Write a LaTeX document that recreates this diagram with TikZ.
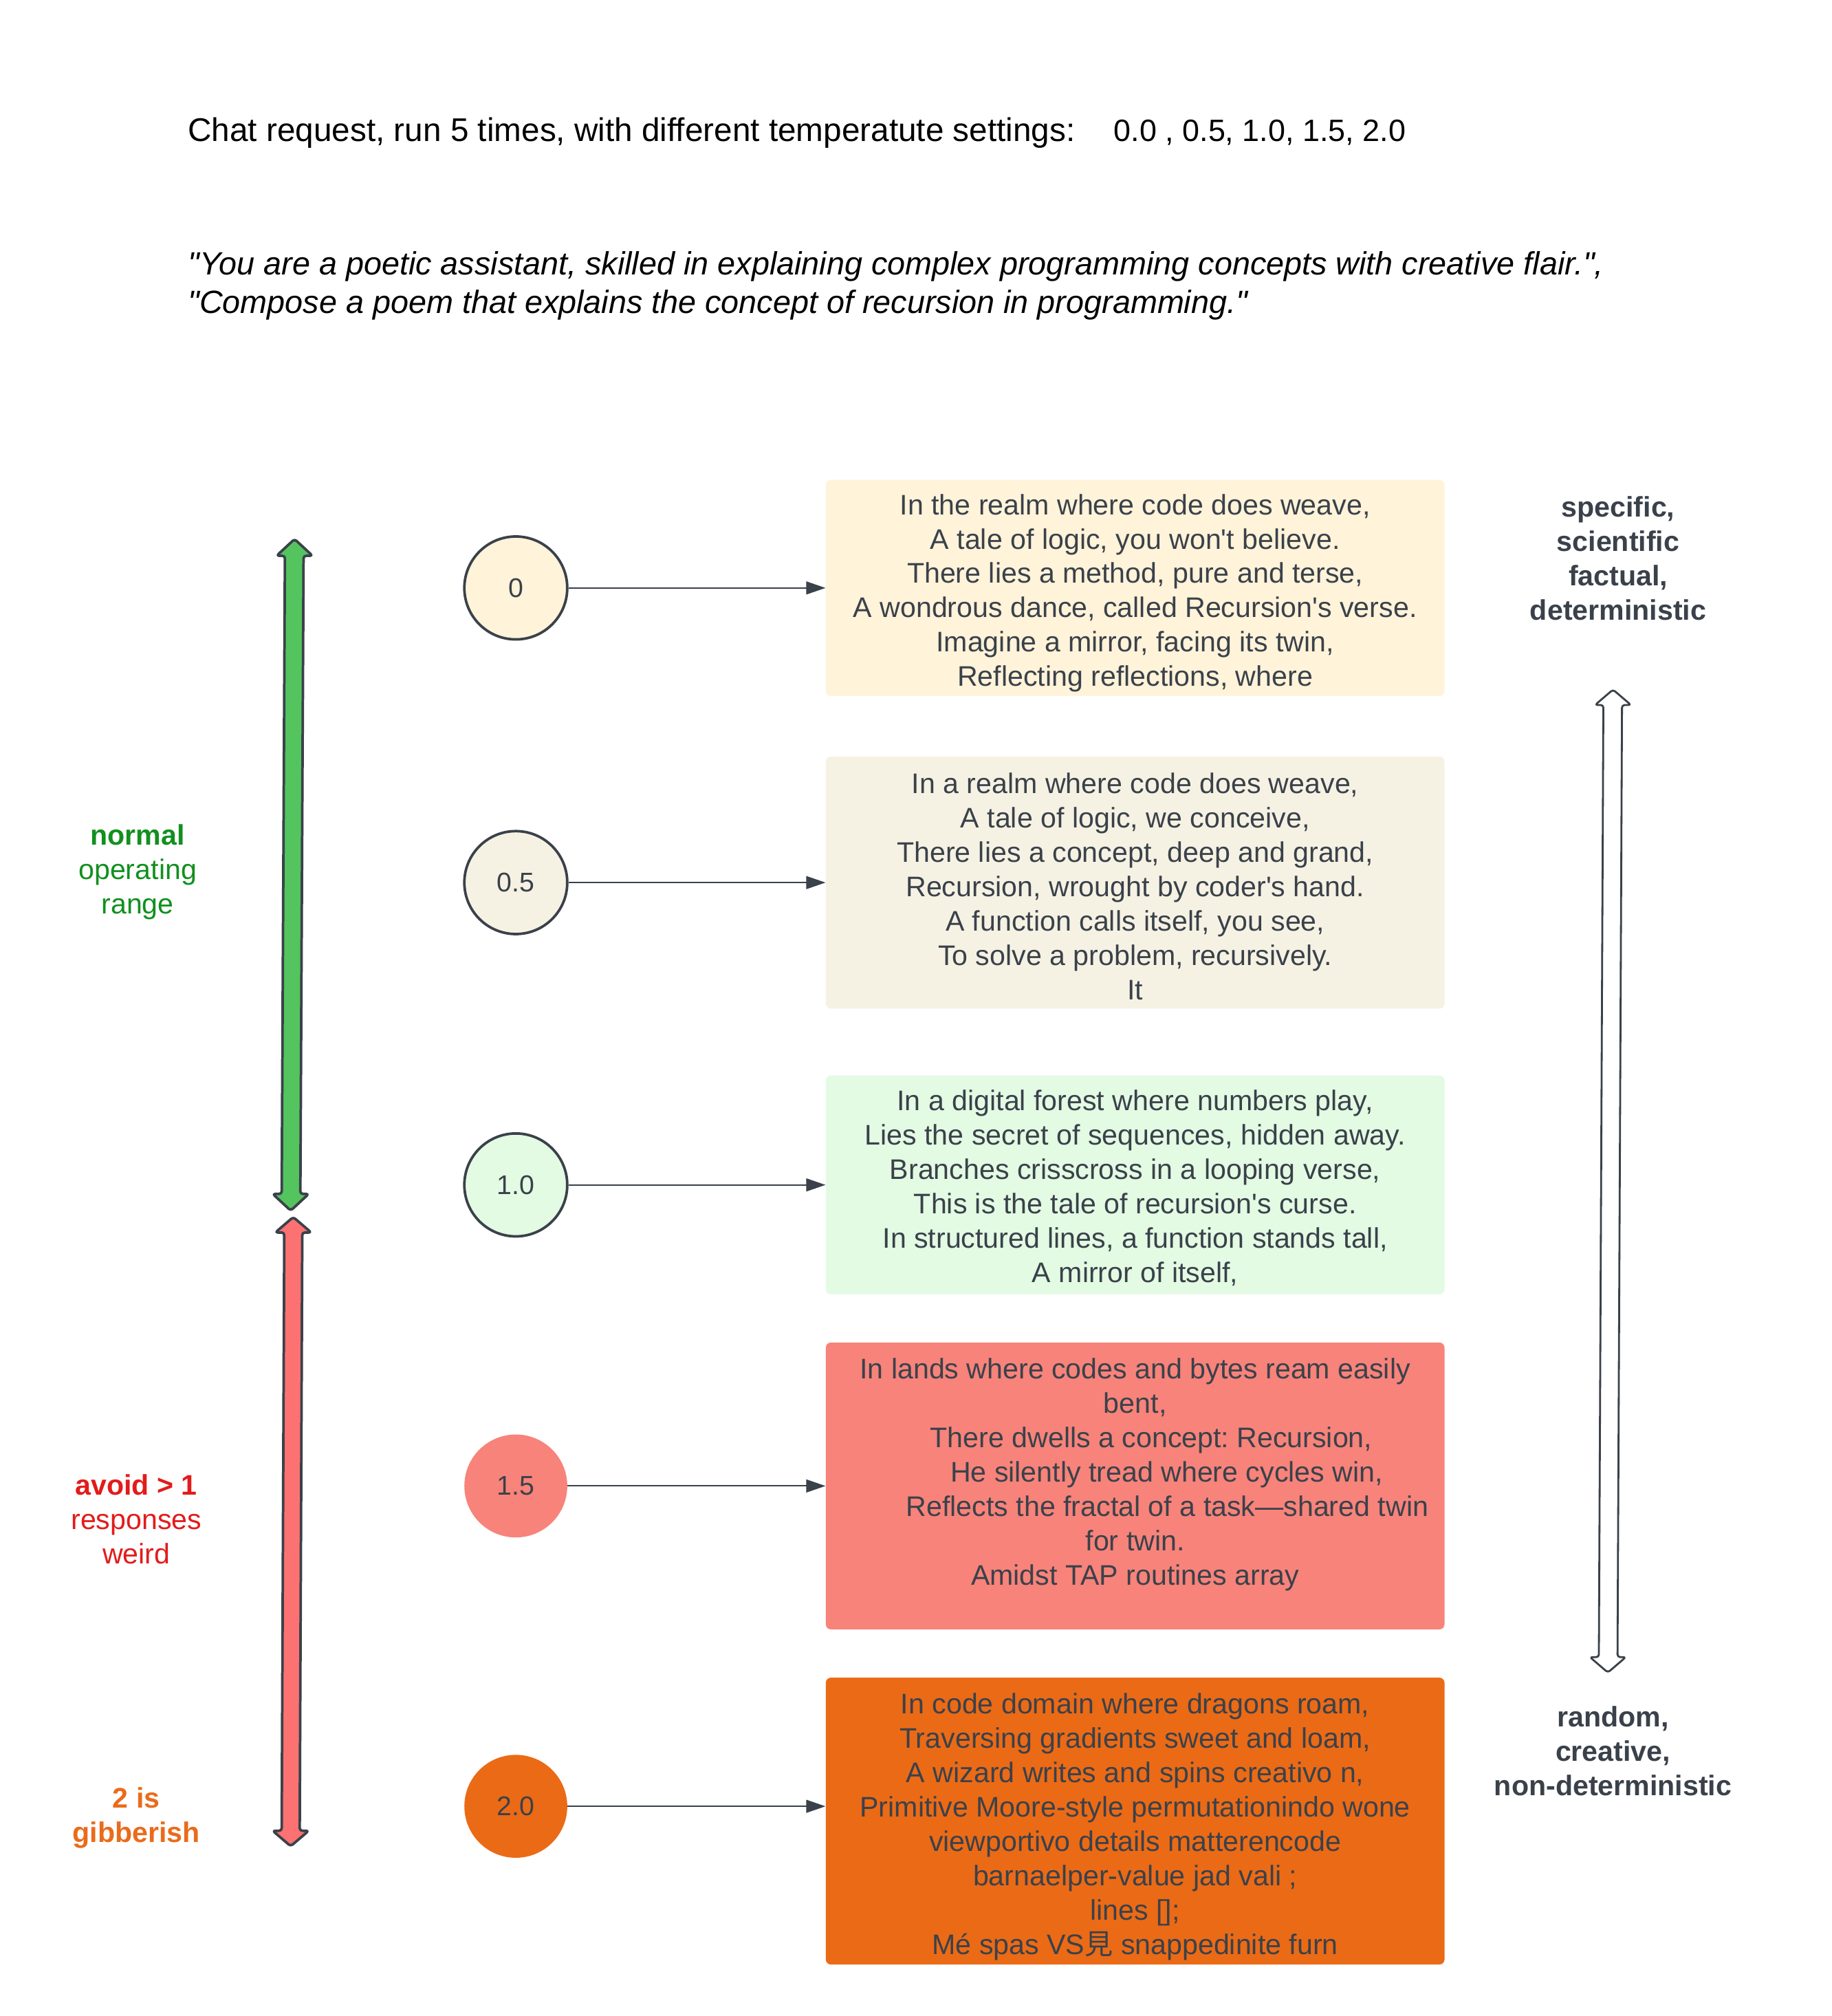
\documentclass[tikz,border=0pt]{standalone}
\usepackage{fontspec}
\newfontfamily\plainfont{Liberation Sans}
\newfontfamily\cjkfont{Noto Sans CJK JP}
\usetikzlibrary{arrows.meta}
\definecolor{ink}{HTML}{3A414A}
\definecolor{fc0}{HTML}{FFF3D9}
\definecolor{fc05}{HTML}{F6F2E3}
\definecolor{fc10}{HTML}{E3FAE3}
\definecolor{fc15}{HTML}{F7837A}
\definecolor{fc20}{HTML}{EB6A16}
\definecolor{garrow}{HTML}{54C45E}
\definecolor{rarrow}{HTML}{FC7272}
\definecolor{lgreen}{HTML}{12901F}
\definecolor{lred}{HTML}{E31B1B}
\definecolor{lorange}{HTML}{EA6B1B}
\tikzset{
 poem/.style={font=\plainfont\fontsize{22}{26.7}\selectfont, text=ink, align=center, inner sep=0pt},
 box/.style={rectangle, rounded corners=4pt, minimum width=481pt, inner sep=0pt, draw=none},
 tcirc/.style={circle, minimum size=80pt, inner sep=0pt, font=\plainfont\fontsize{21}{25}\selectfont, text=ink},
 conn/.style={draw=ink, line width=1.1pt, -{Triangle[length=15pt,width=10pt]}},
 lbl/.style={font=\plainfont\fontsize{22}{26.7}\selectfont, align=center, inner sep=0pt},
 dbl/.style={line width=2pt, draw=ink, rounded corners=2pt, line join=round},
}
\begin{document}
\plainfont\frenchspacing
\begin{tikzpicture}[x=1pt,y=-1pt]
\useasboundingbox (0,0) rectangle (1424,1567);
\fill[white] (0,0) rectangle (1424,1567);

% header
\node[anchor=base west, inner sep=0pt, font=\plainfont\fontsize{25.5}{30}\selectfont] (title) at (146,110)
 {Chat request, run 5 times, with different temperatute settings:\hspace{30pt}{\fontsize{24}{30}\selectfont 0.0 , 0.5, 1.0, 1.5, 2.0}};
\node[anchor=west, inner sep=0pt, align=left, font=\plainfont\fontsize{25}{30}\selectfont\itshape] (prompt) at (146,222)
 {"You are a poetic assistant, skilled in explaining complex programming concepts with creative flair.",\\
  "Compose a poem that explains the concept of recursion in programming."};

% left range arrows
\draw[dbl, fill=garrow] (229,419) -- (243,432) -- (236,432) -- (233.5,928) -- (240,928) -- (226,941) -- (212,928) -- (219,928) -- (221.5,432) -- (215,432) -- cycle;
\draw[dbl, fill=rarrow] (228,946) -- (242,958) -- (235,958) -- (233,1423) -- (240,1423) -- (226,1435) -- (212,1423) -- (219,1423) -- (221,958) -- (214,958) -- cycle;

% left labels
\node[lbl, text=lgreen] (lnormal) at (107,678) {\textbf{normal}\\operating\\range};
\node[lbl, text=lred] (lavoid) at (106,1181) {\textbf{avoid > 1}\\responses\\weird};
\node[lbl, text=lorange, font=\plainfont\fontsize{22}{26.7}\selectfont\bfseries] (lgib) at (106,1413) {2 is\\gibberish};

% right labels and arrow
\node[lbl, text=ink, font=\plainfont\fontsize{22}{26.7}\selectfont\bfseries] (rtop) at (1258,434) {specific,\\scientific\\factual,\\deterministic};
\node[lbl, text=ink, font=\plainfont\fontsize{22}{26.7}\selectfont\bfseries] (rbot) at (1254,1361) {random,\\creative,\\non-deterministic};
\draw[dbl, line width=1.5pt, fill=white] (1254,536) -- (1268,548) -- (1261,548) -- (1257.5,1288) -- (1264,1288) -- (1250,1300) -- (1236,1288) -- (1243,1288) -- (1246.5,548) -- (1240,548) -- cycle;

% circles
\node[tcirc, fill=fc0, draw=ink, line width=2pt] (c0) at (401,457) {0};
\node[tcirc, fill=fc05, draw=ink, line width=2pt] (c05) at (401,686) {0.5};
\node[tcirc, fill=fc10, draw=ink, line width=2pt] (c10) at (401,921) {1.0};
\node[tcirc, fill=fc15] (c15) at (401,1155) {1.5};
\node[tcirc, fill=fc20] (c20) at (401,1404) {2.0};

% boxes
\node[box, fill=fc0, minimum height=168pt] (b0) at (882.5,457) {};
\node[box, fill=fc05, minimum height=196pt] (b05) at (882.5,686) {};
\node[box, fill=fc10, minimum height=170pt] (b10) at (882.5,921) {};
\node[box, fill=fc15, minimum height=223pt] (b15) at (882.5,1155) {};
\node[box, fill=fc20, minimum height=223pt] (b20) at (882.5,1415.5) {};

% poems
\node[poem] (p0) at (882.5,461) {In the realm where code does weave,\\A tale of logic, you won't believe.\\There lies a method, pure and terse,\\A wondrous dance, called Recursion's verse.\\Imagine a mirror, facing its twin,\\Reflecting reflections, where};
\node[poem] (p05) at (882.5,689) {In a realm where code does weave,\\A tale of logic, we conceive,\\There lies a concept, deep and grand,\\Recursion, wrought by coder's hand.\\A function calls itself, you see,\\To solve a problem, recursively.\\It};
\node[poem] (p10) at (882.5,923.5) {In a digital forest where numbers play,\\Lies the secret of sequences, hidden away.\\Branches crisscross in a looping verse,\\This is the tale of recursion's curse.\\In structured lines, a function stands tall,\\A mirror of itself,};
\node[poem] (p15) at (882.5,1146) {In lands where codes and bytes ream easily\\bent,\\\hspace*{25pt}There dwells a concept: Recursion,\\\hspace*{49pt}He silently tread where cycles win,\\\hspace*{50pt}Reflects the fractal of a task—shared twin\\for twin.\\Amidst TAP routines array};
\node[poem] (p20) at (882.5,1420) {In code domain where dragons roam,\\Traversing gradients sweet and loam,\\A wizard writes and spins creativo n,\\Primitive Moore-style permutationindo wone\\viewportivo details matterencode\\barnaelper-value jad vali ;\\lines [];\\Mé spas VS{\cjkfont 見} snappedinite furn};

% connectors
\draw[conn] (c0) -- (c0 -| b0.west);
\draw[conn] (c05) -- (c05 -| b05.west);
\draw[conn] (c10) -- (c10 -| b10.west);
\draw[conn] (c15) -- (c15 -| b15.west);
\draw[conn] (c20) -- (c20 -| b20.west);
\end{tikzpicture}
\end{document}
